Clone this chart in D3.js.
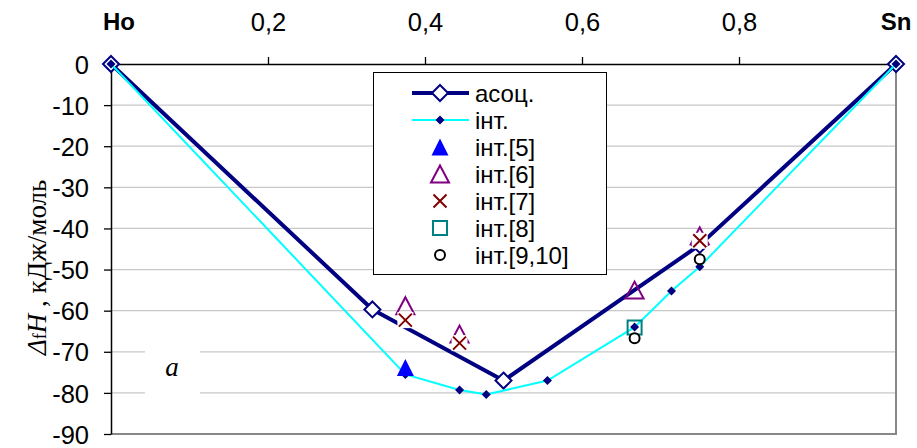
<!DOCTYPE html>
<html><head><meta charset="utf-8">
<script src="https://cdn.jsdelivr.net/npm/d3@7"></script>
<style>body{margin:0;background:#fff}svg{display:block}</style>
</head><body>
<svg id="c" width="917" height="448"></svg>
<script>
// ---- data ----
const assocX = [0, 0.333, 0.5, 0.75, 1];
const assocY = [0, -59.7, -77, -44, 0];
const intX = [0, 0.375, 0.444, 0.478, 0.556, 0.667, 0.714, 0.75, 1];
const intY = [0, -75.5, -79.3, -80.4, -77, -64, -55.2, -49.3, 0];
const int5X = [0.375];
const int5Y = [-73.8];
const int6X = [0.375, 0.444, 0.667, 0.75];
const int6Y = [-58.8, -65.7, -55, -41.8];
const int7X = [0.375, 0.444, 0.75];
const int7Y = [-62.3, -67.9, -43];
const int8X = [0.667];
const int8Y = [-64.1];
const int910X = [0.667, 0.75];
const int910Y = [-66.7, -47.5];
const yTicks = [0, -10, -20, -30, -40, -50, -60, -70, -80, -90];
const xTicks = [0.2, 0.4, 0.6, 0.8];
const legendLabels = ["асоц.", "інт.", "інт.[5]", "інт.[6]", "інт.[7]", "інт.[8]", "інт.[9,10]"];

const SANS = "Liberation Sans, Arial, sans-serif";
const SERIF = "Liberation Serif, Times New Roman, serif";
const svg = d3.select("#c");
const x = d3.scaleLinear().domain([0, 1]).range([111, 896]);
const y = d3.scaleLinear().domain([-90, 0]).range([434, 64]);
const zip = (a, b) => a.map((v, i) => [v, b[i]]);

// grid
svg.append("g").selectAll("line").data(yTicks.filter(d => d < 0 && d > -90)).join("line")
  .attr("x1", x(0)).attr("x2", x(1)).attr("y1", d => y(d)).attr("y2", d => y(d))
  .attr("stroke", "#c8c8c8").attr("stroke-width", 1.3);
// gray border right/bottom
svg.append("path").attr("d", `M${x(1)},${y(0)}V${y(-90)}H${x(0)}`)
  .attr("fill", "none").attr("stroke", "#888").attr("stroke-width", 2);

// "a" label box
svg.append("rect").attr("x", 145).attr("y", 331).attr("width", 55).attr("height", 66).attr("fill", "#fff");
svg.append("text").attr("x", 172).attr("y", 376).attr("text-anchor", "middle")
  .attr("font-family", SERIF).attr("font-style", "italic")
  .attr("font-size", 27).text("a");

// axes
const ax = svg.append("g").attr("transform", `translate(${x(0)},0)`)
  .call(d3.axisLeft(y).tickValues(yTicks).tickSize(7).tickSizeOuter(0).tickFormat(d => String(d)));
ax.select(".domain").attr("stroke", "#000").attr("stroke-width", 1.5);
ax.selectAll(".tick line").attr("stroke", "#000").attr("stroke-width", 1.3);
ax.selectAll(".tick text").attr("font-family", SANS).attr("font-size", 25.5)
  .attr("fill", "#000").attr("x", -22).attr("dy", "0.36em");

const tx = svg.append("g").attr("transform", `translate(0,${y(0)})`)
  .call(d3.axisTop(x).tickValues(xTicks).tickSize(7).tickSizeOuter(0).tickFormat(d => String(d).replace(".", ",")));
tx.select(".domain").attr("stroke", "#000").attr("stroke-width", 1.5);
tx.selectAll(".tick line").attr("stroke", "#000").attr("stroke-width", 1.3);
tx.selectAll(".tick text").attr("font-family", SANS).attr("font-size", 25.5)
  .attr("fill", "#000").attr("y", -42).attr("dy", "0.36em");

svg.append("text").attr("x", 119).attr("y", 21).attr("dy", "0.36em").attr("text-anchor", "middle")
  .attr("font-family", SANS).attr("font-weight", "bold").attr("font-size", 24).text("Ho");
svg.append("text").attr("x", 896).attr("y", 21).attr("dy", "0.36em").attr("text-anchor", "middle")
  .attr("font-family", SANS).attr("font-weight", "bold").attr("font-size", 24).text("Sn");

// y label
const yl = svg.append("text").attr("transform", "translate(46,355) rotate(-90)").attr("text-anchor", "start")
  .attr("font-family", SERIF).attr("font-size", 27);
yl.append("tspan").attr("font-style", "italic").text("Δ");
yl.append("tspan").attr("font-size", 18).text("f");
yl.append("tspan").attr("font-style", "italic").text("H");
yl.append("tspan").text(" , кДж/моль");

// symbols
const line = d3.line().x(d => x(d[0])).y(d => y(d[1]));
function diamondPath(cx, cy, r) { return `M${cx},${cy - r}L${cx + r},${cy}L${cx},${cy + r}L${cx - r},${cy}Z`; }
function triPath(cx, cy, w, h) { return `M${cx},${cy - h / 2}L${cx + w / 2},${cy + h / 2}L${cx - w / 2},${cy + h / 2}Z`; }
const sym = {
  assoc: (g, cx, cy) => g.append("path").attr("d", diamondPath(cx, cy, 8)).attr("fill", "#fff").attr("stroke", "#000080").attr("stroke-width", 2),
  int: (g, cx, cy) => g.append("path").attr("d", diamondPath(cx, cy, 4.5)).attr("fill", "#000080"),
  int5: (g, cx, cy) => g.append("path").attr("d", triPath(cx, cy, 17, 17)).attr("fill", "#0000ff"),
  int6: (g, cx, cy) => g.append("path").attr("d", triPath(cx, cy, 18, 17)).attr("fill", "none").attr("stroke", "#800080").attr("stroke-width", 2),
  int7: (g, cx, cy) => {
    g.append("rect").attr("x", cx - 8).attr("y", cy - 8).attr("width", 16).attr("height", 16).attr("fill", "#fff");
    g.append("path").attr("d", `M${cx - 6.5},${cy - 6.5}L${cx + 6.5},${cy + 6.5}M${cx + 6.5},${cy - 6.5}L${cx - 6.5},${cy + 6.5}`)
      .attr("stroke", "#800000").attr("stroke-width", 2);
  },
  int8: (g, cx, cy) => g.append("rect").attr("x", cx - 7).attr("y", cy - 7).attr("width", 14).attr("height", 14)
    .attr("fill", "none").attr("stroke", "#008080").attr("stroke-width", 2),
  int910: (g, cx, cy) => g.append("circle").attr("cx", cx).attr("cy", cy).attr("r", 5).attr("fill", "#fff")
    .attr("stroke", "#000").attr("stroke-width", 2)
};

const gm = svg.append("g");
// assoc
gm.append("path").datum(zip(assocX, assocY)).attr("d", line).attr("fill", "none").attr("stroke", "#000080").attr("stroke-width", 4).attr("stroke-linejoin", "round");
zip(assocX, assocY).forEach(d => sym.assoc(gm, x(d[0]), y(d[1])));
// int
gm.append("path").datum(zip(intX, intY)).attr("d", line).attr("fill", "none").attr("stroke", "#00ffff").attr("stroke-width", 2);
zip(intX, intY).forEach(d => sym.int(gm, x(d[0]), y(d[1])));
zip(int5X, int5Y).forEach(d => sym.int5(gm, x(d[0]), y(d[1])));
zip(int6X, int6Y).forEach(d => sym.int6(gm, x(d[0]), y(d[1])));
zip(int7X, int7Y).forEach(d => sym.int7(gm, x(d[0]), y(d[1])));
zip(int8X, int8Y).forEach(d => sym.int8(gm, x(d[0]), y(d[1])));
zip(int910X, int910Y).forEach(d => sym.int910(gm, x(d[0]), y(d[1])));

// legend
const lg = svg.append("g");
lg.append("rect").attr("x", 373.5).attr("y", 72.5).attr("width", 233).attr("height", 202)
  .attr("fill", "#fff").attr("stroke", "#000").attr("stroke-width", 1);
const keys = ["assoc", "int", "int5", "int6", "int7", "int8", "int910"];
keys.forEach((k, i) => {
  const cy = 93 + i * 27;
  if (k === "assoc") lg.append("line").attr("x1", 412).attr("x2", 469).attr("y1", cy).attr("y2", cy).attr("stroke", "#000080").attr("stroke-width", 4);
  if (k === "int") lg.append("line").attr("x1", 412).attr("x2", 469).attr("y1", cy).attr("y2", cy).attr("stroke", "#00ffff").attr("stroke-width", 2);
  sym[k](lg, 440, cy);
  lg.append("text").attr("x", 475).attr("y", cy).attr("dy", "0.36em")
    .attr("font-family", SANS).attr("font-size", 24).text(legendLabels[i]);
});
</script>
</body></html>
